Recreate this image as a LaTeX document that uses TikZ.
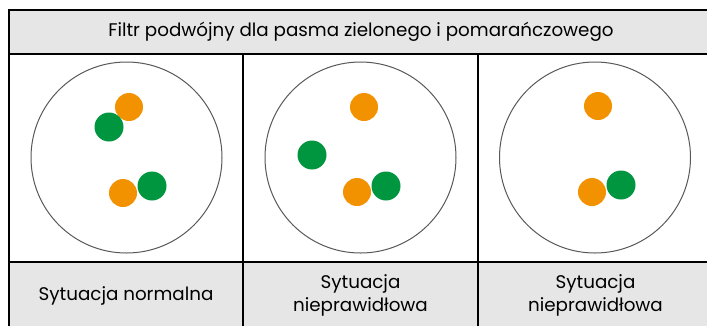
\documentclass[tikz,border=0pt]{standalone}
\usepackage{fontspec}
\setmainfont{Poppins}
\usetikzlibrary{positioning}
\definecolor{cellgray}{RGB}{230,230,230}
\definecolor{dotorange}{RGB}{243,146,0}
\definecolor{dotgreen}{RGB}{0,150,64}
\tikzstyle{cell} = [draw, rectangle, line width=1.5pt, outer sep=0pt, inner sep=0pt]
\tikzstyle{head} = [cell, fill=cellgray, minimum width=704pt, minimum height=44pt]
\tikzstyle{piccell} = [cell, fill=white, minimum width=235pt, minimum height=208pt]
\tikzstyle{labcell} = [cell, fill=cellgray, minimum width=235pt, minimum height=67pt, align=center]
\tikzstyle{ring} = [draw=black!65, line width=1pt, circle, minimum size=191pt, inner sep=0pt]
\tikzstyle{odot} = [circle, fill=dotorange, minimum size=28pt, inner sep=0pt]
\tikzstyle{gdot} = [circle, fill=dotgreen, minimum size=29pt, inner sep=0pt]

\begin{document}
\begin{tikzpicture}[x=1pt, y=-1pt, font=\fontsize{18.3}{22.5}\selectfont]
	\useasboundingbox (0,0) rectangle (707,325);
	\node [head, anchor=north west] (title) at (9,10) {Filtr podwójny dla pasma zielonego i pomarańczowego};
	\node [piccell, minimum width=234pt, below right=0pt and 0pt of title.south west] (pic1) {};
	\node [piccell, right=0pt of pic1] (pic2) {};
	\node [piccell, right=0pt of pic2] (pic3) {};
	\node [labcell, minimum width=234pt, below=0pt of pic1] (normal) {Sytuacja normalna};
	\node [labcell, below=0pt of pic2] (wrong1) {Sytuacja\\nieprawidłowa};
	\node [labcell, below=0pt of pic3] (wrong2) {Sytuacja\\nieprawidłowa};
	
	\node [ring] (ring1) at (126.5,157.5) {};
	\node [ring] (ring2) at (360.5,157.5) {};
	\node [ring] (ring3) at (595,157.5) {};
	
	\node [odot] (o1a) at (129,107) {};
	\node [gdot] (g1a) at (109,127) {};
	\node [odot] (o1b) at (123,193) {};
	\node [gdot] (g1b) at (152,186) {};
	
	\node [odot] (o2a) at (364,107) {};
	\node [gdot] (g2a) at (312,155) {};
	\node [odot] (o2b) at (357,192) {};
	\node [gdot] (g2b) at (386,186) {};
	
	\node [odot] (o3a) at (598,106) {};
	\node [odot] (o3b) at (592,192) {};
	\node [gdot] (g3b) at (621,185) {};
\end{tikzpicture}
\end{document}
